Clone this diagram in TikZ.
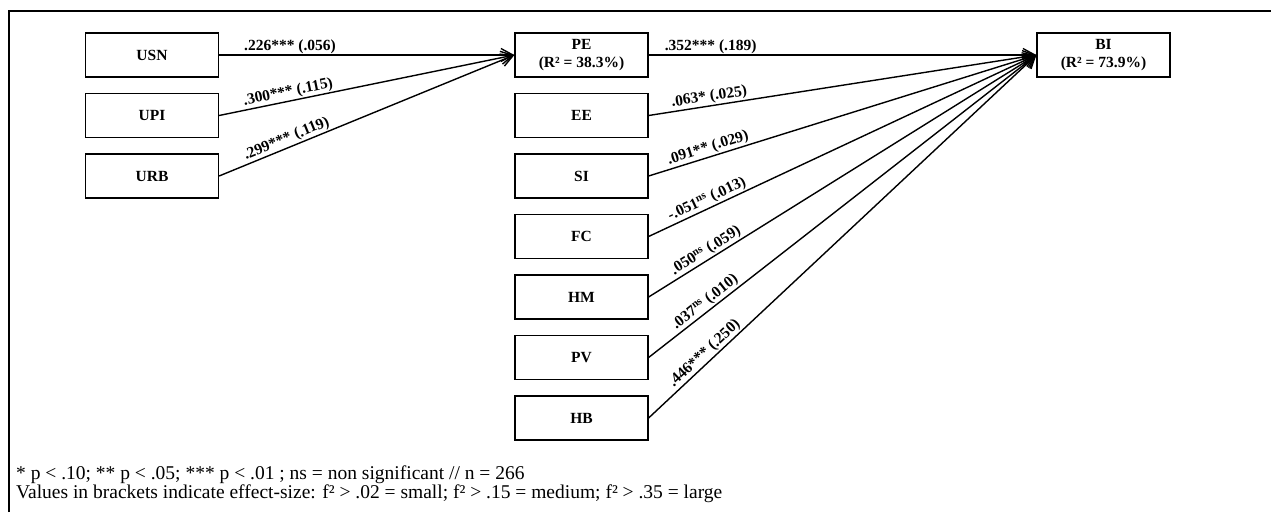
\documentclass[tikz,border=0pt]{standalone}
\usepackage{fontspec}
\setmainfont{Liberation Serif}
\usetikzlibrary{arrows.meta}

\tikzset{
  construct/.style={draw, line width=1.2pt, minimum width=133pt, minimum height=44pt,
    inner sep=0pt, align=center, font=\fontsize{15.5}{18}\selectfont\bfseries},
  effect/.style={line width=1.4pt, -{Straight Barb[length=12pt,width=13pt]}},
  coef/.style={sloped, above, inner sep=1pt, font=\fontsize{15.5}{16}\selectfont\bfseries},
  note/.style={anchor=base west, inner sep=0pt, font=\fontsize{19.5}{19}\selectfont}
}

\begin{document}
\begin{tikzpicture}[x=1pt,y=1pt]
  \useasboundingbox (0,0) rectangle (1271,-512);
  \draw[line width=1.2pt] (9,-512) -- (9,-11) -- (1271,-11);

  % antecedents of PE
  \foreach \name/\row in {USN/0,UPI/1,URB/2}
    \node[construct] (\name) at (152,{-55-60.5*\row}) {\name};

  % predictors of BI
  \node[construct] (PE) at (581.5,-55) {PE\\(R² = 38.3\%)};
  \foreach \name/\row in {EE/1,SI/2,FC/3,HM/4,PV/5,HB/6}
    \node[construct] (\name) at (581.5,{-55-60.5*\row}) {\name};

  \node[construct] (BI) at (1103.5,-55) {BI\\(R² = 73.9\%)};

  \foreach \src/\lab in {USN/{.226*** (.056)},UPI/{.300*** (.115)},URB/{.299*** (.119)}}
    \draw[effect] (\src.east) -- node[coef,pos=.24] {\lab} (PE.west);

  \foreach \src/\lab in {PE/{.352*** (.189)},EE/{.063* (.025)},SI/{.091** (.029)},
      FC/{-.051\textsuperscript{ns} (.013)},HM/{.050\textsuperscript{ns} (.059)},
      PV/{.037\textsuperscript{ns} (.010)},HB/{.446*** (.250)}}
    \draw[effect] (\src.east) -- node[coef,pos=.16] {\lab} (BI.west);

  \node[note] (sig) at (16,-479) {* p < .10; ** p < .05; *** p < .01 ; ns = non significant // n = 266};
  \node[note] (size) at (16,-498) {Values in brackets indicate effect-size: f² > .02 = small; f² > .15 = medium; f² > .35 = large};
\end{tikzpicture}
\end{document}
